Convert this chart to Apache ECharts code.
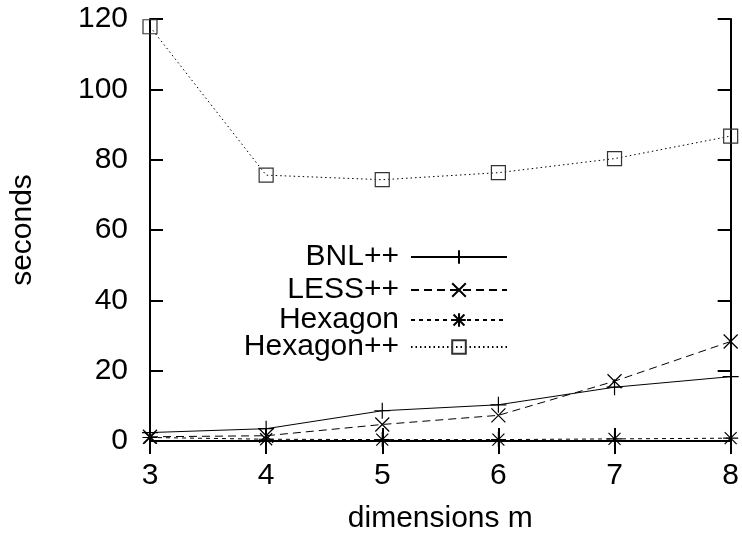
<!DOCTYPE html>
<html>
<head>
<meta charset="utf-8">
<script src="https://cdn.jsdelivr.net/npm/echarts@6/dist/echarts.min.js"></script>
<style>
  html, body { margin: 0; padding: 0; background: #fff; }
  #chart { width: 742px; height: 539px; }
</style>
</head>
<body>
<div id="chart"></div>
<script>
// data
const dims = [3, 4, 5, 6, 7, 8]
const bnl = [2.4, 3.5, 8.6, 10.3, 15.3, 18.3]
const less = [1.2, 1.5, 4.7, 7.3, 17.0, 28.3]
const hexagon = [1.0, 0.5, 0.4, 0.4, 0.6, 0.8]
const hexagonPP = [117.8, 75.6, 74.3, 76.3, 80.3, 86.7]

const seriesNames = ['BNL++', 'LESS++', 'Hexagon', 'Hexagon++']
const yTicks = { min: 0, max: 120, step: 20 }

const FONT = 'Liberation Sans, Arial, Helvetica, sans-serif'
const FS = 30

const PLUS = 'path://M0,5L10,5M5,0L5,10'
const CROSS = 'path://M0,0L10,10M10,0L0,10'
const STAR = 'path://M0,5L10,5M5,0L5,10M1,1L9,9M9,1L1,9'

const pairs = (ys) => dims.map((x, i) => [x, ys[i]])

const chart = echarts.init(document.getElementById('chart'), null, { renderer: 'canvas' })

const baseSeries = (name, ys, symbol, size, dash) => ({
  name: name,
  type: 'line',
  data: pairs(ys),
  symbol: symbol,
  symbolSize: size,
  showSymbol: true,
  clip: false,
  animation: false,
  lineStyle: { color: '#000', width: 1, type: dash },
  itemStyle: { color: '#000', borderColor: '#000', borderWidth: 1.2 },
})

// legend sits inside the plot, text on the left, sample on the right
const legendTops = [242, 275, 305, 332]
const legends = seriesNames.map((n, i) => ({
  data: [n],
  right: 234,
  top: legendTops[i],
  padding: 0,
  align: 'right',
  orient: 'vertical',
  itemWidth: 96,
  itemHeight: 17,
  selectedMode: false,
  textStyle: { fontFamily: FONT, fontSize: FS, color: '#000', padding: [0, 7, 0, 0] },
}))

const option = {
  backgroundColor: '#ffffff',
  animation: false,
  grid: { left: 147, right: 10, top: 19, bottom: 96 },
  legend: legends,
  xAxis: [
    {
      type: 'value',
      min: 3,
      max: 8,
      interval: 1,
      name: 'dimensions m',
      nameLocation: 'middle',
      nameGap: 63,
      nameTextStyle: { fontFamily: FONT, fontSize: FS, color: '#000' },
      axisLine: { show: true, lineStyle: { color: '#000', width: 2 } },
      axisTick: { show: true, inside: true, length: 13, lineStyle: { color: '#000', width: 2 } },
      axisLabel: { fontFamily: FONT, fontSize: FS, color: '#000', margin: 20 },
      splitLine: { show: false },
    },
    {
      type: 'value',
      position: 'top',
      min: 3,
      max: 8,
      interval: 1,
      axisLine: { show: true, lineStyle: { color: '#000', width: 2 } },
      axisTick: { show: true, inside: true, length: 13, lineStyle: { color: '#000', width: 2 } },
      axisLabel: { show: false },
      splitLine: { show: false },
    },
  ],
  yAxis: [
    {
      type: 'value',
      min: yTicks.min,
      max: yTicks.max,
      interval: yTicks.step,
      name: 'seconds',
      nameLocation: 'middle',
      nameGap: 112,
      nameTextStyle: { fontFamily: FONT, fontSize: FS, color: '#000' },
      axisLine: { show: true, lineStyle: { color: '#000', width: 2 } },
      axisTick: { show: true, inside: true, length: 13, lineStyle: { color: '#000', width: 2 } },
      axisLabel: { fontFamily: FONT, fontSize: FS, color: '#000', margin: 22 },
      splitLine: { show: false },
    },
    {
      type: 'value',
      position: 'right',
      min: yTicks.min,
      max: yTicks.max,
      interval: yTicks.step,
      axisLine: { show: true, lineStyle: { color: '#000', width: 2 } },
      axisTick: { show: true, inside: true, length: 13, lineStyle: { color: '#000', width: 2 } },
      axisLabel: { show: false },
      splitLine: { show: false },
    },
  ],
  series: [
    baseSeries(seriesNames[0], bnl, PLUS, 16, 'solid'),
    baseSeries(seriesNames[1], less, CROSS, 14, [8, 5]),
    baseSeries(seriesNames[2], hexagon, STAR, 15, [4, 4]),
    Object.assign(baseSeries(seriesNames[3], hexagonPP, 'rect', 14, [1.5, 3]), {
      itemStyle: { color: 'rgba(0,0,0,0)', borderColor: '#333', borderWidth: 1.2 },
    }),
  ],
}

chart.setOption(option)
</script>
</body>
</html>
